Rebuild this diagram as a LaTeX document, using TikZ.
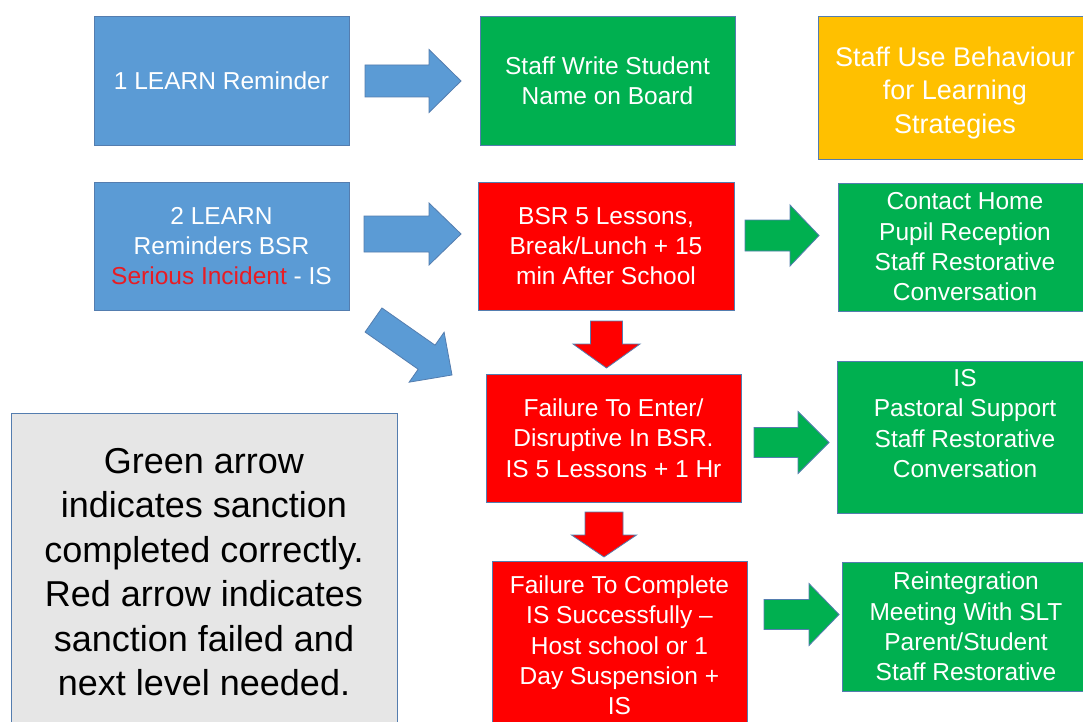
\documentclass[tikz,border=0pt]{standalone}
\usepackage{fontspec}
\setmainfont{Liberation Sans}
\usetikzlibrary{calc}
\definecolor{boxblue}{RGB}{91,155,213}
\definecolor{boxgreen}{RGB}{0,176,80}
\definecolor{boxorange}{RGB}{255,192,0}
\definecolor{boxred}{RGB}{255,0,0}
\definecolor{boxgray}{RGB}{230,230,230}
\definecolor{edgecol}{RGB}{84,125,175}
\definecolor{txtred}{RGB}{232,28,36}
% #1 start, #2 tip, #3 half shaft, #4 half head, #5 head length, #6 style
\newcommand{\fatarrow}[6]{%
  \coordinate (fahead) at ($(#2)!#5!(#1)$);
  \draw[#6] ($(#1)!#3!90:(#2)$) -- ($(fahead)!#3!90:(#2)$) -- ($(fahead)!#4!90:(#2)$) -- (#2)
    -- ($(fahead)!#4!-90:(#2)$) -- ($(fahead)!#3!-90:(#2)$) -- ($(#1)!#3!-90:(#2)$) -- cycle;}
\tikzset{
  box/.style={draw=edgecol, line width=0.8pt, inner sep=0pt, align=center, text=white,
    font=\fontsize{24.5}{30.3}\selectfont},
  blockblue/.style={fill=boxblue, draw=edgecol, line width=0.8pt, line join=miter},
  blockgreen/.style={fill=boxgreen, draw=edgecol, line width=0.8pt, line join=miter},
  blockred/.style={fill=boxred, draw=edgecol, line width=0.8pt, line join=miter},
}
\begin{document}
\begin{tikzpicture}[x=1pt,y=-1pt]
\useasboundingbox (0,0) rectangle (1083,722);
\clip (0,0) rectangle (1083,722);
\fill[white] (0,0) rectangle (1083,722);

% row 1
\node[box, fill=boxblue, minimum width=255pt, minimum height=129pt] (b1) at (221.5,80.5) {1 LEARN Reminder};
\node[box, fill=boxgreen, minimum width=255pt, minimum height=129pt] (g1) at (607.5,80.5) {Staff Write Student\\Name on Board};
\node[box, fill=boxorange, minimum width=274pt, minimum height=143pt,
  font=\fontsize{27}{33.5}\selectfont] (o1) at (955,87.5) {\strut\\[-27.2pt]Staff Use Behaviour\\for Learning\\Strategies};

% row 2
\node[box, fill=boxblue, minimum width=255pt, minimum height=128pt] (b2) at (221.5,246) {2 LEARN\\Reminders BSR\\{\color{txtred}Serious Incident} - IS};
\node[box, fill=boxred, minimum width=256pt, minimum height=128pt] (r1) at (606,246) {BSR 5 Lessons,\\Break/Lunch + 15\\min After School};
\node[box, fill=boxgreen, minimum width=254pt, minimum height=128pt] (g2) at (965,247) {Contact Home\\Pupil Reception\\Staff Restorative\\Conversation};

% row 3
\node[box, fill=boxred, minimum width=255pt, minimum height=128pt] (r2) at (613.5,438) {Failure To Enter/\\Disruptive In BSR.\\IS 5 Lessons + 1 Hr};
\node[box, fill=boxgreen, minimum width=256pt, minimum height=152pt] (g3) at (965,437) {IS\\Pastoral Support\\Staff Restorative\\Conversation\\[-12pt]\strut};

% row 4
\node[box, fill=boxred, minimum width=255pt, minimum height=169pt] (r3) at (619.5,645.5) {Failure To Complete\\IS Successfully –\\Host school or 1\\Day Suspension +\\IS};
\node[box, fill=boxgreen, minimum width=248pt, minimum height=129pt] (g4) at (966,626.5) {Reintegration\\Meeting With SLT\\Parent/Student\\Staff Restorative};

% legend
\node[box, fill=boxgray, text=black, minimum width=386pt, minimum height=318pt,
  font=\fontsize{36}{44.5}\selectfont] (key) at (204,572) {Green arrow\\indicates sanction\\completed correctly.\\Red arrow indicates\\sanction failed and\\next level needed.};

% block arrows
\coordinate (a1s) at (365,81);    \coordinate (a1e) at (461,81);
\fatarrow{a1s}{a1e}{16pt}{31.5pt}{32pt}{blockblue}
\coordinate (a2s) at (364,234);   \coordinate (a2e) at (461,234);
\fatarrow{a2s}{a2e}{18pt}{31pt}{32pt}{blockblue}
\coordinate (a3s) at (373.5,320); \coordinate (a3e) at (452,375);
\fatarrow{a3s}{a3e}{14.7pt}{30.5pt}{31pt}{blockblue}

\coordinate (gas1) at (745,235.5); \coordinate (gae1) at (819,235.5);
\fatarrow{gas1}{gae1}{15.5pt}{30.5pt}{29pt}{blockgreen}
\coordinate (gas2) at (754,442.5); \coordinate (gae2) at (829,442.5);
\fatarrow{gas2}{gae2}{15pt}{31pt}{31pt}{blockgreen}
\coordinate (gas3) at (764,614.5); \coordinate (gae3) at (839,614.5);
\fatarrow{gas3}{gae3}{15pt}{31pt}{30pt}{blockgreen}

\coordinate (ras1) at (606.5,321); \coordinate (rae1) at (606.5,368);
\fatarrow{ras1}{rae1}{16pt}{33.5pt}{24pt}{blockred}
\coordinate (ras2) at (604,512); \coordinate (rae2) at (604,557);
\fatarrow{ras2}{rae2}{19pt}{32.5pt}{22pt}{blockred}
\end{tikzpicture}
\end{document}
